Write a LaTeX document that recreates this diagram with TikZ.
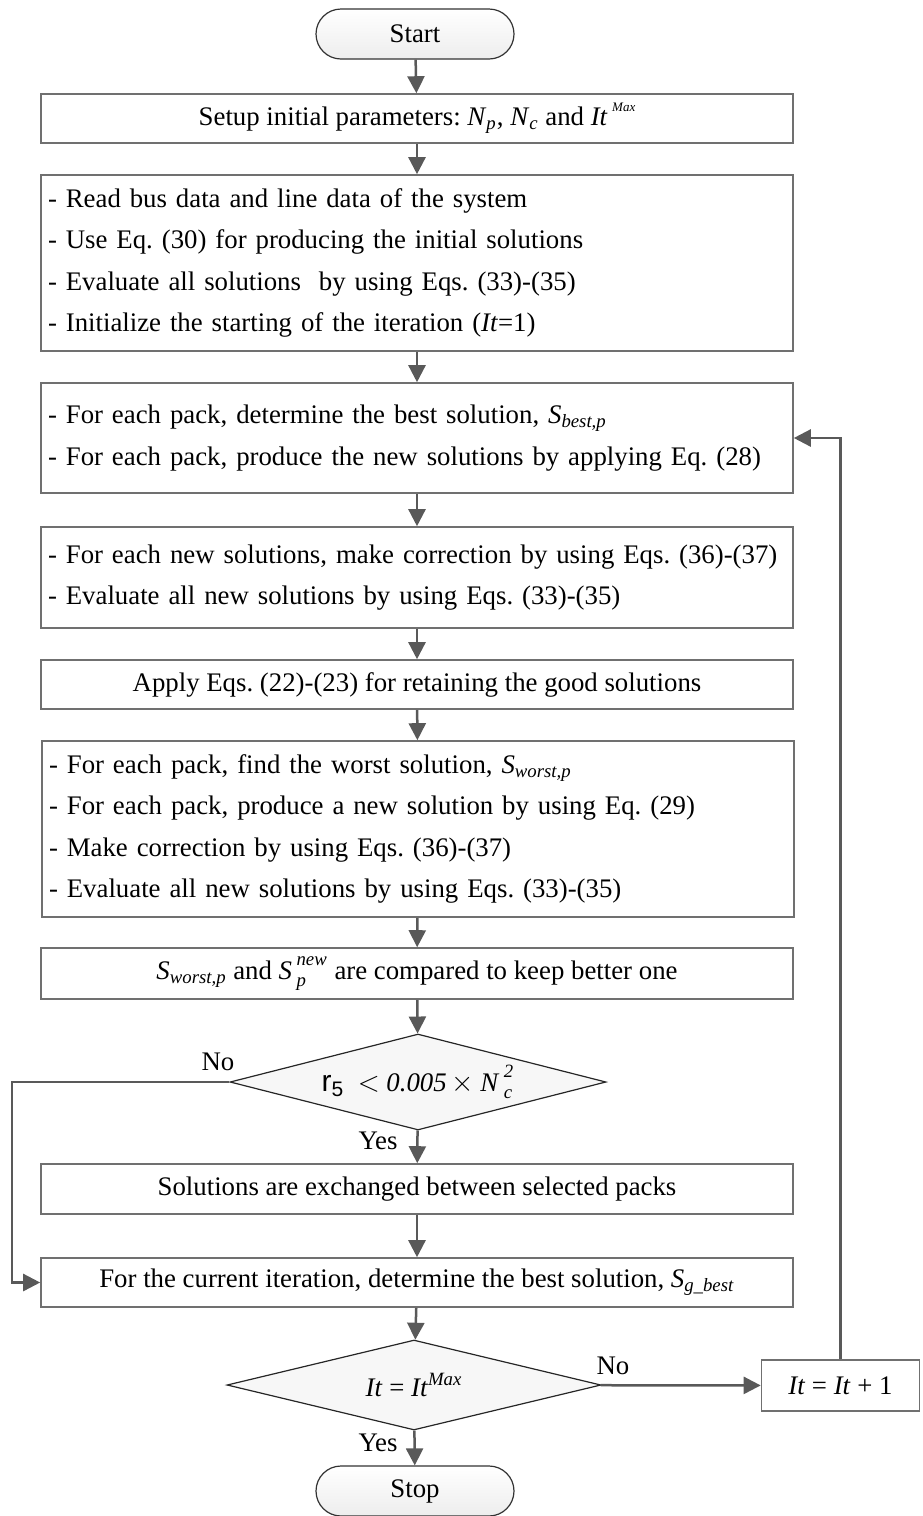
\documentclass[tikz,border=0pt]{standalone}
\usepackage{fontspec}
\setmainfont{Liberation Serif}
\setsansfont{Liberation Sans}
\usetikzlibrary{arrows.meta,shapes.geometric}
\definecolor{linegray}{HTML}{595959}
\definecolor{boxgray}{HTML}{707070}
\newcommand{\vr}[2]{\textit{#1}\textsubscript{\textit{#2}}}
\newcommand{\stk}[3]{\textit{#1}\,\rlap{\raisebox{-0.2ex}{\textsubscript{\textit{#3}}}}\raisebox{0.3ex}{\textsuperscript{\textit{#2}}}}
\tikzset{
  txt/.style={font=\fontsize{13.4}{20.75}\selectfont},
  box/.style={txt, draw=boxgray, line width=0.8pt, fill=white, inner sep=0pt,
    minimum width=376pt, minimum height=24.5pt},
  listbox/.style={box, align=left, text width=369pt, inner xsep=3.5pt},
  term/.style={txt, draw=black!80, line width=0.6pt, top color=white, bottom color=gray!14,
    rounded corners=12.5pt, minimum width=99pt, minimum height=25pt, inner sep=0pt},
  test/.style={txt, diamond, aspect=3.9, draw=black!85, line width=0.6pt, fill=gray!6, inner sep=0pt,
    minimum width=188pt, minimum height=48pt},
  arr/.style={draw=linegray, line width=1.25pt, -{Triangle[length=8.5pt,width=8.5pt]}}
}
\frenchspacing
\begin{document}
\begin{tikzpicture}[x=0.5pt,y=-0.5pt]
  \useasboundingbox (0,0) rectangle (922,1516);
  \node[term] (start) at (415,34) {Start};
  \node[box] (setup) at (417,118.5)
    {Setup initial parameters: \vr{N}{p}, \vr{N}{c} and \textit{It}\,\raisebox{1.1ex}{\fontsize{6.5}{7}\selectfont\textit{Max}}};
  \node[listbox, minimum height=88pt] (init) at (417,263)
    {- Read bus data and line data of the system\\
     - Use Eq. (30) for producing the initial solutions\\
     - Evaluate all solutions\ \ by using Eqs. (33)-(35)\\
     - Initialize the starting of the iteration (\textit{It}=1)};
  \node[listbox, minimum height=55pt] (pack) at (417,438)
    {- For each pack, determine the best solution, \vr{S}{best,p}\\
     - For each pack, produce the new solutions by applying Eq. (28)};
  \node[listbox, minimum height=50.5pt] (correct) at (417,577.5)
    {- For each new solutions, make correction by using Eqs. (36)-(37)\\
     - Evaluate all new solutions by using Eqs. (33)-(35)};
  \node[box] (retain) at (417,684.5) {Apply Eqs. (22)-(23) for retaining the good solutions};
  \node[listbox, minimum height=88pt] (worst) at (418,829)
    {- For each pack, find the worst solution, \vr{S}{worst,p}\\
     - For each pack, produce a new solution by using Eq. (29)\\
     - Make correction by using Eqs. (36)-(37)\\
     - Evaluate all new solutions by using Eqs. (33)-(35)};
  \node[box, minimum height=25.5pt] (compare) at (417,973.5)
    {\vr{S}{worst,p} and \stk{S}{new}{p} are compared to keep better one};
  \node[test] (rcheck) at (418,1082)
    {\textsf{\fontsize{15}{15}\selectfont r\textsubscript{5}}\ \ \textit{$<$ 0.005}\,$\times$\ \stk{N}{2}{c}};
  \node[box, minimum height=25pt] (exchange) at (417,1189) {Solutions are exchanged between selected packs};
  \node[box] (gbest) at (417,1282.5)
    {For the current iteration, determine the best solution, \vr{S}{g\_best}};
  \node[test, aspect=4.15, minimum width=187pt, minimum height=45pt] (itcheck) at (414,1385)
    {\textit{It} = \textit{It}\textsuperscript{\textit{Max}}};
  \node[box, minimum width=79pt, minimum height=25.5pt] (next) at (840.5,1385.5) {\textit{It} = \textit{It} + 1};
  \node[term] (stop) at (415,1491) {Stop};
  \coordinate (back) at (12,1082);
  \node[txt] (no1) at (218,1062) {No};
  \node[txt] (yes1) at (378,1141) {Yes};
  \node[txt] (no2) at (613,1366) {No};
  \node[txt] (yes2) at (378,1443) {Yes};
  \begin{scope}[arr]
    \draw (start) -- (setup);
    \draw (setup) -- (init);
    \draw (init) -- (pack);
    \draw (pack) -- (correct);
    \draw (correct) -- (retain);
    \draw (retain) -- (worst);
    \draw (worst) -- (compare);
    \draw (compare) -- (rcheck);
    \draw (rcheck) -- (exchange);
    \draw (exchange) -- (gbest);
    \draw (gbest) -- (itcheck);
    \draw (itcheck) -- (stop);
    \draw (itcheck) -- (next);
    \draw (rcheck.west) -- (back) |- (gbest.west);
    \draw (next.north) |- (pack.east);
  \end{scope}
\end{tikzpicture}
\end{document}
